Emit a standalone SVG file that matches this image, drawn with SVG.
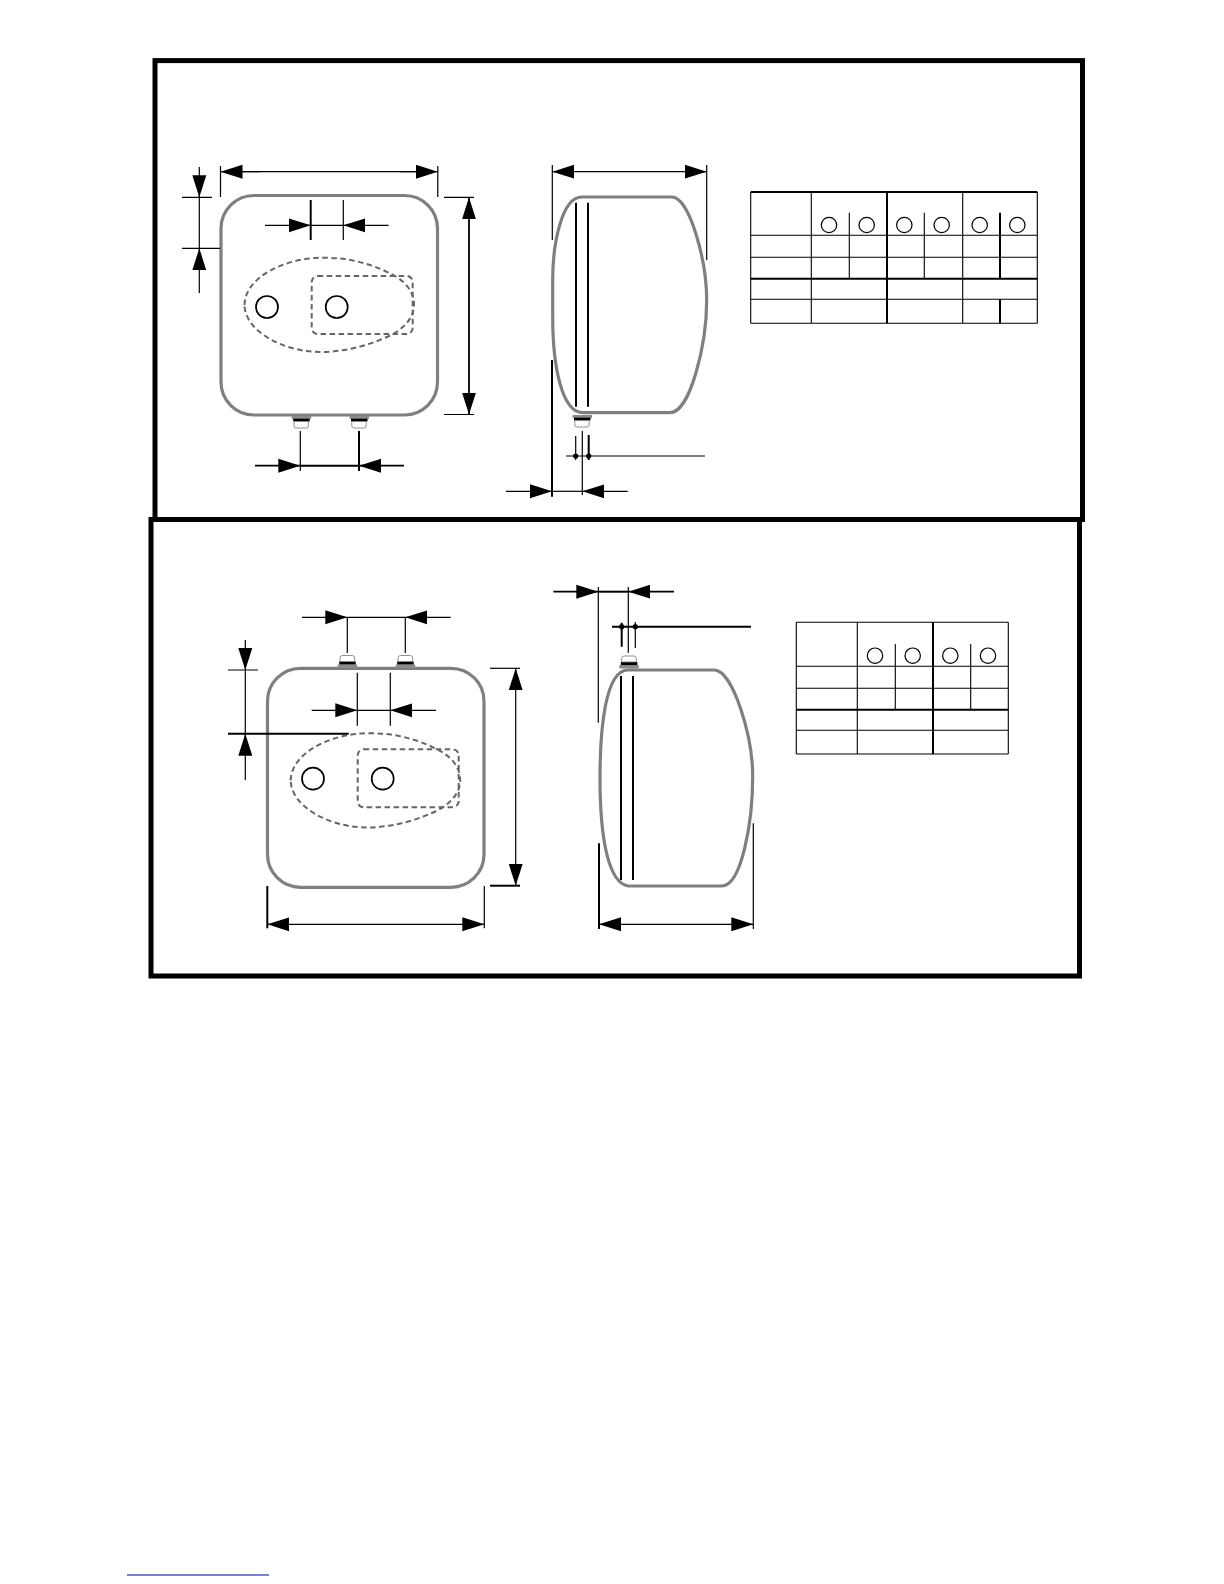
<svg xmlns="http://www.w3.org/2000/svg" xmlns:xlink="http://www.w3.org/1999/xlink" width="1224" height="1584" viewBox="0 0 1224 1584">
<style>
.frame{fill:none;stroke:#000;stroke-width:5}
.body{fill:#fff;stroke:#7f7f7f;stroke-width:3.2;stroke-linejoin:round}
.dash{fill:none;stroke:#666;stroke-width:2;stroke-dasharray:5.5 3.5}
.hole{fill:#fff;stroke:#000;stroke-width:1.7}
.tube{stroke:#000;stroke-width:2;fill:none}
.d{stroke:#000;stroke-width:1.2;fill:none;marker-end:url(#a)}
.d2{stroke:#000;stroke-width:1.8;fill:none;marker-end:url(#a)}
.e{stroke:#000;stroke-width:1.2;fill:none}
.e2{stroke:#000;stroke-width:2;fill:none}
.t{stroke:#000;stroke-width:1.1;fill:none}
.t2{stroke:#000;stroke-width:2;fill:none}
.c{fill:#fff;stroke:#000;stroke-width:1.2}
.fl{fill:#8a8a8a}
.bk{fill:#000}
.ni{fill:#fff;stroke:#777;stroke-width:.8}
</style>
<defs>
<marker id="a" markerUnits="userSpaceOnUse" markerWidth="23" markerHeight="15" refX="22" refY="7.5" orient="auto"><path d="M0,.5 L22,7.5 L0,14.5 Z" fill="#000"/></marker>
<path id="teardrop" d="M244.5,305 C245,277 285,257.7 323,257.7 C352,257.7 375,265 395,276 C407,283 414,293 414,305 C414,316 407,325 395,333 C372,345 345,352 320,352 C285,352 245,332 244.5,305 Z"/>
<g id="nipDown"><rect class="fl" x="0" y="0" width="19.5" height="3"/><rect class="bk" x="1.5" y="2.7" width="16.5" height="2.8"/><path class="ni" d="M2.3,5.5 H16.7 V10 Q16.7,12 14.5,12 H4.5 Q2.3,12 2.3,10 Z"/></g>
<g id="nipUp"><rect class="fl" x="0" y="9.5" width="19.5" height="3.5"/><rect class="bk" x="1.5" y="6.5" width="16.5" height="3"/><path class="ni" d="M2.3,6.5 H17 V3 Q17,.5 14.5,.5 H4.8 Q2.3,.5 2.3,3 Z"/></g>
</defs>

<g id="frames">
<rect class="frame" x="155" y="60.6" width="927.5" height="458.9"/>
<rect class="frame" x="151" y="519.5" width="928.5" height="456.5"/>
</g>

<g id="front-view-1">
<rect class="body" x="221" y="195.5" width="216.5" height="219.5" rx="33" ry="33"/>
<use href="#teardrop" class="dash"/>
<rect class="dash" x="311.7" y="276" width="101" height="58" rx="6"/>
<circle class="hole" cx="267" cy="307" r="11"/>
<circle class="hole" cx="336.7" cy="307" r="11"/>
<use href="#nipDown" x="291.7" y="416"/>
<use href="#nipDown" x="349.5" y="416"/>
</g>

<g id="side-view-1">
<path class="body" d="M581.7,197 L671.7,197 C690,197 706.7,262 706.7,300 C706.7,345 690,412.7 670,412.7 L583,412.7 C562,412.7 552.7,367 552.7,316.7 L552.7,280 C552.7,243 562,197 581.7,197 Z"/>
<path class="tube" d="M576,202.7 V406.7 M588,202.7 V406.7"/>
<use href="#nipDown" x="572.5" y="415"/>
</g>

<g id="table-1">
<path class="t" d="M811.3,192 V323.3 M962.7,192 V323.3 M849.3,212.7 V278.7 M924.3,212.7 V278.7 M750.7,235.3 H1037.3 M750.7,257.3 H1037.3 M750.7,299.3 H1037.3 M750.7,192 V323.3 M1037.3,192 V323.3 M750.7,323.3 H1037.3"/>
<path class="t2" d="M750.7,192 H1037.3 M750.7,278.7 H1037.3 M887,192 V323.3 M1000,212.7 V278.7 M1000,299.3 V323.3"/>
<circle class="c" cx="829" cy="225" r="7.7"/><circle class="c" cx="866.7" cy="225" r="7.7"/><circle class="c" cx="904.3" cy="225" r="7.7"/><circle class="c" cx="941.7" cy="225" r="7.7"/><circle class="c" cx="979.7" cy="225" r="7.7"/><circle class="c" cx="1017.3" cy="225" r="7.7"/>
</g>

<g id="front-view-2">
<rect class="body" x="267.5" y="668.3" width="216.5" height="219" rx="33" ry="33"/>
<use href="#teardrop" class="dash" x="46.2" y="475.5"/>
<rect class="dash" x="357.7" y="749.3" width="101" height="58" rx="6"/>
<circle class="hole" cx="313" cy="778.7" r="11"/>
<circle class="hole" cx="382.7" cy="778.7" r="11"/>
<use href="#nipUp" x="337.7" y="655"/>
<use href="#nipUp" x="395.7" y="655"/>
</g>

<g id="side-view-2">
<path class="body" d="M628,670 L715,670 C733,672 752.7,735 752.7,776.7 C752.7,820 742,886 721.7,886 L628.3,886 C608,883 600,837 600,778 C600,730 605,670 628,670 Z"/>
<path class="tube" d="M621,676 V880 M633,676 V880"/>
<use href="#nipUp" x="619.3" y="655.5"/>
</g>

<g id="table-2">
<path class="t" d="M857.3,622.3 V754 M895.3,644 V709.7 M970.7,644 V709.7 M796.3,666.3 H1008.3 M796.3,688.3 H1008.3 M796.3,730.3 H1008.3 M796.3,622.3 H1008.3 M796.3,754 H1008.3 M796.3,622.3 V754 M1008.3,622.3 V754"/>
<path class="t2" d="M796.3,709.7 H1008.3 M933,622.3 V754"/>
<circle class="c" cx="875" cy="655.7" r="7.7"/><circle class="c" cx="912.7" cy="655.7" r="7.7"/><circle class="c" cx="950.3" cy="655.7" r="7.7"/><circle class="c" cx="988" cy="655.7" r="7.7"/>
</g>

<g id="connectors">
<path class="d" d="M260,171.7 L220.5,171.7"/><path class="d" d="M400,171.7 L437.8,171.7"/><path class="e" d="M240,171.7 H420 M220.5,166 V197 M437.8,166 V197"/>
<path class="d" d="M199.3,167 L199.3,197.3"/><path class="d" d="M199.3,293 L199.3,248.3"/><path class="e" d="M199.3,197 V248 M182,197.3 H212 M182,248.3 H220"/>
<path class="d" d="M265,225.3 L310.7,225.3"/><path class="d" d="M388.7,225.3 L343.3,225.3"/><path class="e" d="M310.7,225.3 H343.3 M343.3,200 V240"/><path class="e2" d="M310.7,200 V240"/>
<path class="d2" d="M469,300 L469,197.3"/><path class="d2" d="M469,300 L469,414.5"/><path class="e" d="M444,197.3 H474 M444,414.5 H474"/>
<path class="d2" d="M255,465.7 L300.3,465.7"/><path class="d2" d="M404,465.7 L359,465.7"/><path class="e2" d="M300,465.7 H359 M359,431 V471"/><path class="e" d="M300.3,431 V471"/>
<path class="d" d="M630,171.7 L552.3,171.7"/><path class="d" d="M630,171.7 L706.7,171.7"/><path class="e" d="M552.3,165 V240 M706.7,165 V260"/>
<path class="e" d="M575.7,436 V460 M566,456 H705 M582.3,431 V495"/><path class="e2" d="M588.7,435 V460"/>
<circle cx="575.7" cy="456" r="2.6"/><circle cx="588.7" cy="456" r="2.6"/>
<path class="d" d="M506,491.3 L552,491.3"/><path class="d" d="M627.7,491.3 L582.3,491.3"/><path class="e" d="M552,491.3 H582.3"/><path class="e2" d="M552,360 V496.7"/>
<path class="d" d="M302,617.3 L347.3,617.3"/><path class="d" d="M450.7,617.3 L405.3,617.3"/><path class="e" d="M347.3,617.3 H405.3 M347.3,617.3 V653 M405.3,617.3 V653"/>
<path class="d" d="M311.7,710.3 L357.3,710.3"/><path class="d" d="M436,710.3 L390.3,710.3"/><path class="e" d="M357.3,710.3 H390.3 M357.3,672.7 V725.7 M390.3,672.7 V725.7"/>
<path class="d" d="M245.3,640 L245.3,670"/><path class="d" d="M245.3,780 L245.3,733.7"/><path class="e" d="M245.3,670 V733.7 M228,670 H258"/><path class="e2" d="M228,733.7 H348.7"/>
<path class="d" d="M515.7,780 L515.7,668.3"/><path class="d" d="M515.7,780 L515.7,885.7"/><path class="e" d="M490,668.3 H520"/><path class="e2" d="M490,885.7 H520"/>
<path class="d" d="M375,924.3 L267.3,924.3"/><path class="d" d="M375,924.3 L484.3,924.3"/><path class="e2" d="M267.3,886 V928.3"/><path class="e" d="M484.3,886 V928.3"/>
<path class="d2" d="M553.3,591.7 L598.3,591.7"/><path class="d2" d="M674,591.7 L628.3,591.7"/><path class="e2" d="M598.3,591.7 H628.3"/><path class="e" d="M598.3,587 V722.7 M628.3,587 V652.7"/>
<path class="e2" d="M612,626.7 H751 M621.7,622.7 V646.7"/><path class="e" d="M635.3,622 V648"/>
<circle cx="621.7" cy="626.7" r="2.6"/><circle cx="635.3" cy="626.7" r="2.6"/>
<path class="d" d="M676,924.3 L599,924.3"/><path class="d" d="M676,924.3 L753.3,924.3"/><path class="e2" d="M599,843.3 V929"/><path class="e" d="M753.3,823.3 V929"/>
</g>

<path id="blue-rule" d="M127,1575 H269" stroke="#00008b" stroke-width="1" fill="none"/>
</svg>
